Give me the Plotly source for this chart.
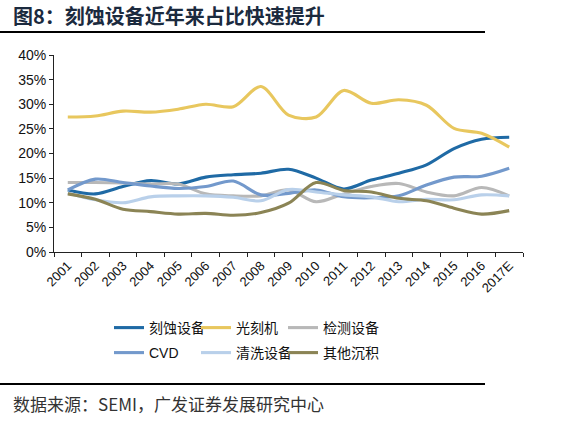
import plotly.graph_objects as go

years = ["2001", "2002", "2003", "2004", "2005", "2006", "2007", "2008", "2009",
         "2010", "2011", "2012", "2013", "2014", "2015", "2016", "2017E"]

etch = [12.6, 11.8, 13.3, 14.5, 13.8, 15.2, 15.7, 16.0, 16.8, 15.0, 12.8, 14.6, 16.0, 17.7, 21.0, 22.9, 23.3]
litho = [27.4, 27.6, 28.6, 28.4, 29.0, 30.0, 29.5, 33.6, 27.8, 27.4, 32.8, 30.2, 30.9, 29.8, 25.1, 24.1, 21.3]
inspect = [14.1, 14.1, 14.0, 13.8, 13.8, 11.8, 11.4, 11.4, 12.6, 10.2, 11.8, 13.3, 13.9, 12.2, 11.4, 13.1, 11.4]
cvd = [12.6, 14.8, 14.1, 13.4, 12.9, 13.3, 14.4, 11.6, 11.9, 12.6, 11.2, 11.0, 11.4, 13.6, 15.2, 15.4, 17.0]
clean = [12.0, 10.6, 10.0, 11.2, 11.4, 11.4, 11.1, 10.4, 12.7, 12.2, 11.6, 11.2, 10.2, 10.7, 10.6, 11.6, 11.4]
other_dep = [11.8, 10.7, 8.7, 8.2, 7.7, 7.85, 7.45, 8.0, 9.9, 14.1, 12.5, 12.2, 10.9, 10.4, 8.9, 7.7, 8.4]

names = ["刻蚀设备", "光刻机", "检测设备", "CVD", "清洗设备", "其他沉积"]
series = [etch, litho, inspect, cvd, clean, other_dep]
colors = ["#1F6AA5", "#E8C75E", "#B8B8B8", "#7399CC", "#B9D0EA", "#8B8455"]

W, H = 581, 422
L, R, T, B = 54, 523, 55, 252


def px(x):
    return (x - L) / (R - L)


def py(y):
    return (B - y) / (B - T)


# legend item anchor positions (page px): columns and rows
leg_cols = [109, 196, 283]
leg_rows = [328, 353]

font_main = "Liberation Sans, Arial, Noto Sans CJK SC, sans-serif"
font_cjk = "Noto Sans CJK SC, sans-serif"

fig = go.Figure()
legend_layout = {}
for i, (n, s, c) in enumerate(zip(names, series, colors)):
    key = "legend" if i == 0 else f"legend{i + 1}"
    fig.add_trace(go.Scatter(
        x=years, y=s, name=n, mode="lines",
        line=dict(color=c, width=3.1, shape="spline", smoothing=0.9),
        legend=key,
    ))
    legend_layout[key] = dict(
        orientation="h", xanchor="left", yanchor="middle",
        x=px(leg_cols[i % 3]), y=py(leg_rows[i // 3]),
        font=dict(family=font_main, size=14, color="#111111"),
        bgcolor="rgba(0,0,0,0)",
        itemclick=False, itemdoubleclick=False,
    )

fig.update_layout(
    width=W, height=H,
    margin=dict(l=L, r=W - R, t=T, b=H - B, pad=0),
    paper_bgcolor="white", plot_bgcolor="white",
    font=dict(family=font_main, size=13, color="#111111"),
    showlegend=True,
    xaxis=dict(
        type="category", range=[-0.5, 16.5], tickson="boundaries",
        ticks="outside", ticklen=4, tickcolor="#222222",
        showline=True, linecolor="#222222", linewidth=1,
        showgrid=False, zeroline=False, tickangle=-45,
        tickfont=dict(family=font_main, size=13, color="#111111"),
    ),
    yaxis=dict(
        range=[0, 40], dtick=5, ticksuffix="%",
        ticks="outside", ticklen=4, tickcolor="#222222",
        showline=True, linecolor="#222222", linewidth=1,
        showgrid=False, zeroline=False,
        tickfont=dict(family=font_main, size=14, color="#111111"),
    ),
    shapes=[
        dict(type="line", xref="paper", yref="paper",
             x0=px(0), x1=px(485), y0=py(32), y1=py(32),
             line=dict(color="#000000", width=2)),
        dict(type="line", xref="paper", yref="paper",
             x0=px(0), x1=px(485), y0=py(384), y1=py(384),
             line=dict(color="#000000", width=2)),
    ],
    annotations=[
        dict(text="<b>图8：刻蚀设备近年来占比快速提升</b>", xref="paper", yref="paper",
             x=px(11), y=py(16), xanchor="left", yanchor="middle", showarrow=False,
             font=dict(family=font_cjk, size=20, color="#1B2A3E")),
        dict(text="数据来源：SEMI，广发证券发展研究中心", xref="paper", yref="paper",
             x=px(11), y=py(403), xanchor="left", yanchor="middle", showarrow=False,
             font=dict(family=font_cjk, size=17, color="#333333")),
    ],
    **legend_layout,
)

fig.write_html("out.html", config={"displayModeBar": False},
               post_script="document.body.style.margin='0';")
